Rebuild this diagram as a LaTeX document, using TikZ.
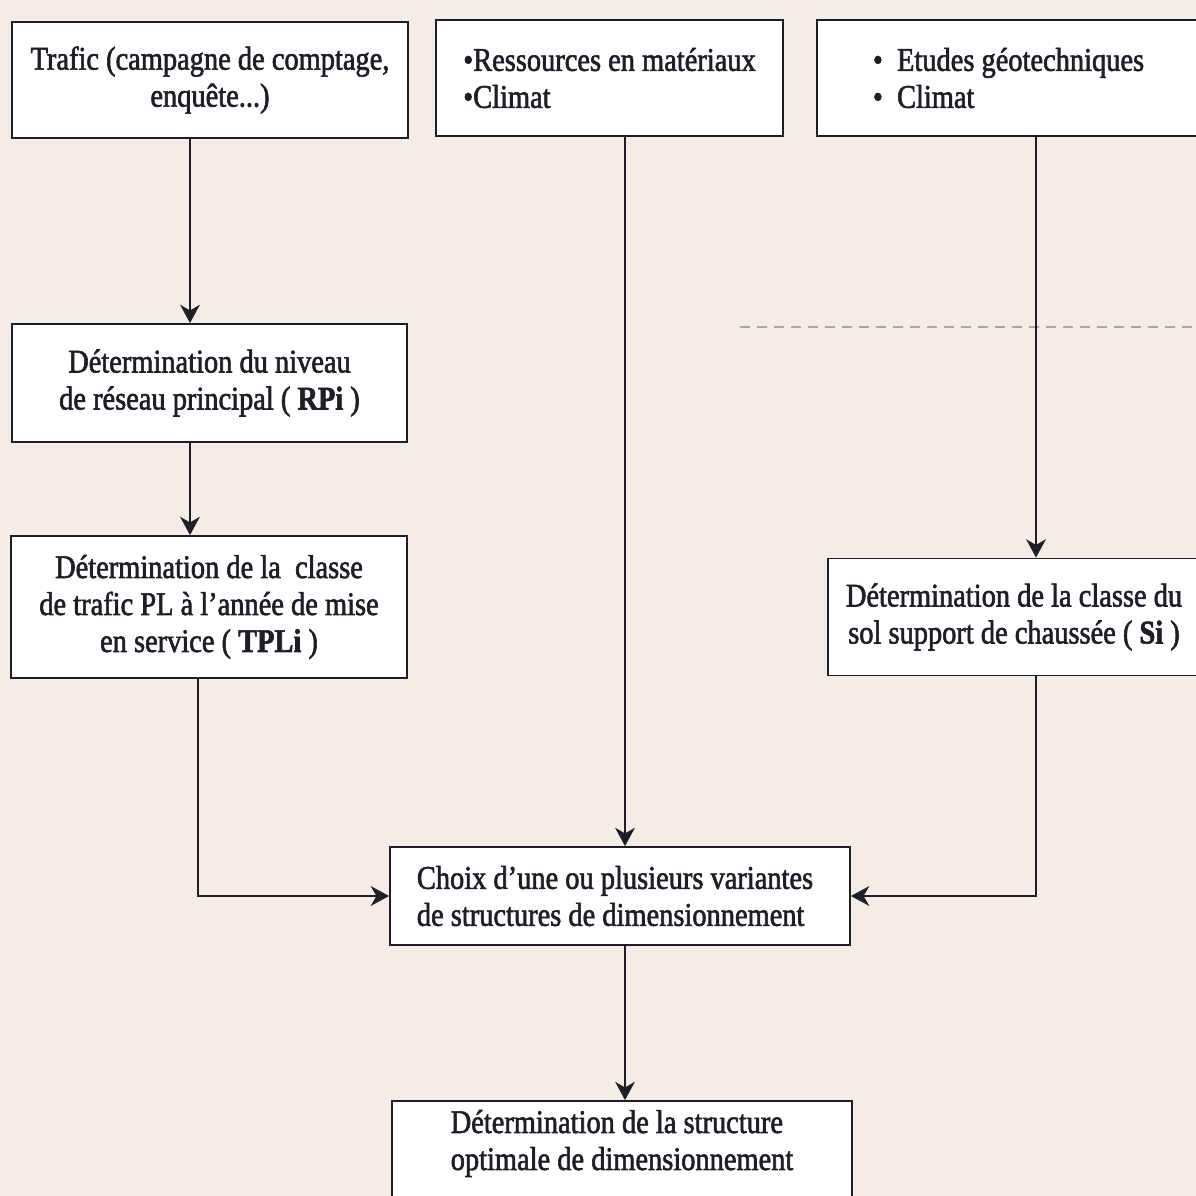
\documentclass[tikz,border=0pt]{standalone}
\usepackage{fontspec}
\setmainfont{Liberation Serif}[FakeStretch=0.86,FakeBold=1.8]
\usetikzlibrary{arrows.meta}
\newlength{\pxu}
\setlength{\pxu}{0.025cm}
\definecolor{paper}{RGB}{245,237,229}
\definecolor{ink}{RGB}{30,30,40}
\begin{document}
\begin{tikzpicture}[x=\pxu,y=-\pxu,
  box/.style={draw=ink, fill=white, line width=1.3pt, inner sep=0pt,
    align=center, text=ink, font=\fontsize{23.5pt}{26.3pt}\selectfont},
  arr/.style={draw=ink, line width=1.4pt,
    -{Stealth[length=13pt,width=14pt,inset=4pt]}}]
  % page background
  \fill[paper] (0,0) rectangle (1196,1196);
  \useasboundingbox (0,0) rectangle (1196,1196);

  % top row of inputs
  \node[box, minimum width=396\pxu, minimum height=116\pxu] (trafic) at (210,80)
    {Trafic (campagne de comptage,\\ enquête...)};
  \node[box, align=left, minimum width=347\pxu, minimum height=116\pxu] (ress) at (609.5,78)
    {•Ressources en matériaux\\ •Climat};
  \node[box, align=left, minimum width=383\pxu, minimum height=116\pxu] (etudes) at (1008.5,78)
    {• \ Etudes géotechniques\\ • \ Climat};

  % left column
  \node[box, minimum width=395\pxu, minimum height=118\pxu] (rpi) at (209.5,383)
    {Détermination du niveau\\ de réseau principal ( \textbf{RPi} )};
  \node[box, minimum width=396\pxu, minimum height=142\pxu] (tpli) at (209,607)
    {Détermination de la \ classe\\ de trafic PL à l'année de mise\\ en service ( \textbf{TPLi} )};

  % right column
  \node[box, minimum width=372\pxu, minimum height=117\pxu] (si) at (1014,617)
    {Détermination de la classe du\\ sol support de chaussée ( \textbf{Si} )};

  % choice and result
  \node[box, align=left, minimum width=460\pxu, minimum height=98\pxu] (choix) at (620,896)
    {\hspace*{-10\pxu}Choix d’une ou plusieurs variantes\\ \hspace*{-10\pxu}de structures de dimensionnement};
  \node[box, align=left, minimum width=460\pxu, minimum height=126\pxu] (final) at (622,1164)
    {Détermination de la structure\\ optimale de dimensionnement\\ \strut};

  % faint rule on the right
  \draw[black!35, line width=0.9pt, dash pattern=on 10\pxu off 7\pxu]
    (740,327) -- (1196,327);

  % connector columns
  \coordinate (cA) at (190,0);
  \coordinate (cB) at (198,0);
  \coordinate (cC) at (625,0);
  \coordinate (cD) at (1036,0);

  \draw[arr] (trafic.south -| cA) -- (rpi.north -| cA);
  \draw[arr] (rpi.south -| cA) -- (tpli.north -| cA);
  \draw[arr] (tpli.south -| cB) |- (choix.west);
  \draw[arr] (ress.south -| cC) -- (choix.north -| cC);
  \draw[arr] (etudes.south -| cD) -- (si.north -| cD);
  \draw[arr] (si.south -| cD) |- (choix.east);
  \draw[arr] (choix.south -| cC) -- (final.north -| cC);
\end{tikzpicture}
\end{document}
